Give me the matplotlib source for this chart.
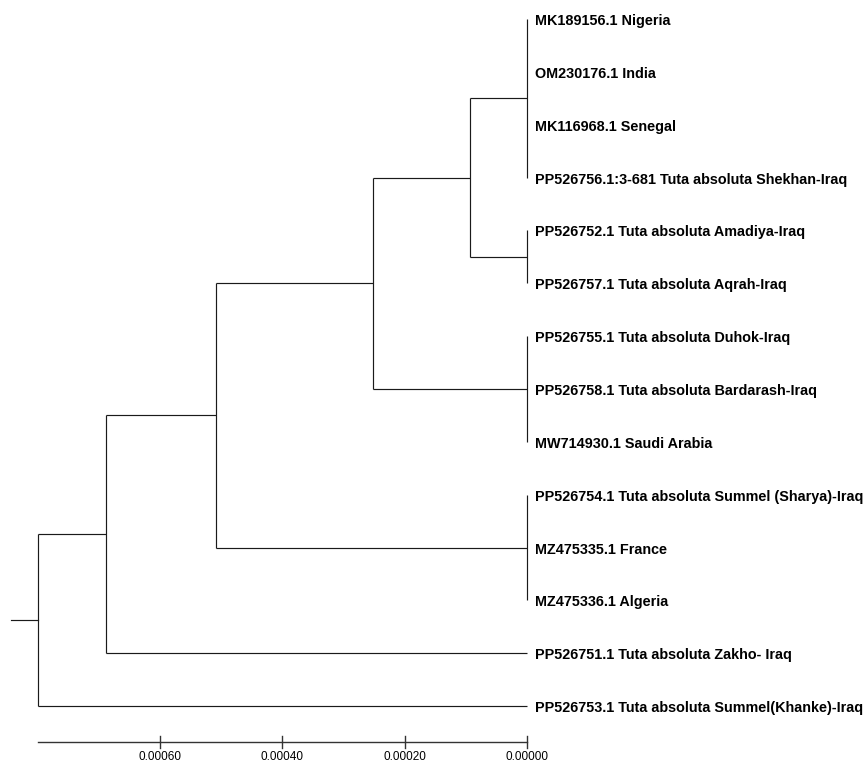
import matplotlib
matplotlib.use('Agg')
from matplotlib import pyplot as plt

# leaf labels, top to bottom
labels = [
    'MK189156.1 Nigeria',
    'OM230176.1 India',
    'MK116968.1 Senegal',
    'PP526756.1:3-681 Tuta absoluta Shekhan-Iraq',
    'PP526752.1 Tuta absoluta Amadiya-Iraq',
    'PP526757.1 Tuta absoluta Aqrah-Iraq',
    'PP526755.1 Tuta absoluta Duhok-Iraq',
    'PP526758.1 Tuta absoluta Bardarash-Iraq',
    'MW714930.1 Saudi Arabia',
    'PP526754.1 Tuta absoluta Summel (Sharya)-Iraq',
    'MZ475335.1 France',
    'MZ475336.1 Algeria',
    'PP526751.1 Tuta absoluta Zakho- Iraq',
    'PP526753.1 Tuta absoluta Summel(Khanke)-Iraq',
]

# internal nodes: name, height (distance), children (leaf index or node name)
node_names = ['G', 'H', 'F', 'D', 'E', 'C', 'B', 'A', 'root']
node_heights = [0.0, 0.0, 0.0, 0.0, 0.000093, 0.000251, 0.000508, 0.000687, 0.000798]
node_children = [
    [0, 1, 2, 3],
    [4, 5],
    [6, 7, 8],
    [9, 10, 11],
    ['G', 'H'],
    ['E', 'F'],
    ['C', 'D'],
    ['B', 12],
    ['A', 13],
]
root_stub = 0.000045

scale_ticks = [0.0006, 0.0004, 0.0002, 0.0]
scale_labels = ['0.00060', '0.00040', '0.00020', '0.00000']

W, H = 868, 769
px_per_unit = 612500.0     # pixels per unit of distance
row_px = 52.85             # pixels between leaves
top_px = 19

fig = plt.figure(figsize=(W / 100, H / 100), dpi=100)
ax = fig.add_axes([0, 0, 1, 1])
ax.set_xlim(527 / px_per_unit, -(W - 527) / px_per_unit)
ax.set_ylim((H - top_px) / row_px, -top_px / row_px)
ax.axis('off')

lc = '#1a1a1a'
lw = 0.85

ypos = {}
xpos = {}
for i in range(len(labels)):
    ypos[i] = i
    xpos[i] = 0.0

for name, h, kids in zip(node_names, node_heights, node_children):
    ys = [ypos[k] for k in kids]
    for k in kids:
        ax.plot([xpos[k], h], [ypos[k], ypos[k]], color=lc, lw=lw, solid_capstyle='butt')
    ax.plot([h, h], [min(ys), max(ys)], color=lc, lw=lw, solid_capstyle='butt')
    ypos[name] = (min(ys) + max(ys)) / 2
    xpos[name] = h

# root stub
r = node_heights[-1]
ax.plot([r, r + root_stub], [ypos['root'], ypos['root']], color=lc, lw=lw)

# leaf labels
for i, lab in enumerate(labels):
    ax.text(-8 / px_per_unit, i + 2 / row_px, lab, ha='left', va='center',
            fontsize=10.4, fontweight='bold', family='Liberation Sans')

# scale bar
sy = (742 - top_px) / row_px
tk = 6 / row_px
ax.plot([r, 0.0], [sy, sy], color='#333333', lw=1.0)
for t, s in zip(scale_ticks, scale_labels):
    ax.plot([t, t], [sy - tk, sy + tk], color='#333333', lw=1.0)
    ax.text(t, (757 - top_px) / row_px, s, ha='center', va='center',
            fontsize=8.5, family='Liberation Sans')

plt.savefig('out.png', dpi=100)
